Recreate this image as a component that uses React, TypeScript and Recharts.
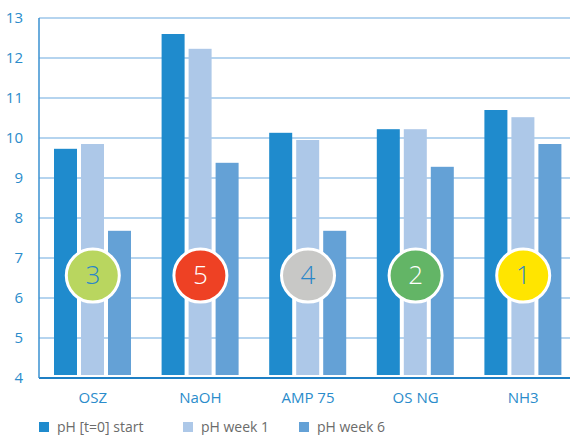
import React from "react";
import { Bar, CartesianGrid, ComposedChart, Scatter, XAxis, YAxis } from "recharts";

const categories = ["OSZ", "NaOH", "AMP 75", "OS NG", "NH3"];
const phStart = [9.73, 12.6, 10.13, 10.22, 10.7];
const phWeek1 = [9.85, 12.23, 9.95, 10.22, 10.52];
const phWeek6 = [7.68, 9.38, 7.68, 9.28, 9.85];
const ranks = [3, 5, 4, 2, 1];
const rankColors = ["#b9d65f", "#ee4124", "#c8c8c6", "#63b566", "#ffe500"];
const rankTextColors = ["#2a86c8", "#ffffff", "#2a86c8", "#ffffff", "#2a86c8"];
const yTicks = [4, 5, 6, 7, 8, 9, 10, 11, 12, 13];

const seriesNames = ["pH [t=0] start", "pH week 1", "pH week 6"];
const seriesColors = ["#1f8bcd", "#adc8e8", "#64a1d6"];

const data = categories.map((name, i) => ({
  name,
  start: phStart[i],
  week1: phWeek1[i],
  week6: phWeek6[i],
  badge: 6.56,
  rank: ranks[i],
  rankColor: rankColors[i],
  rankText: rankTextColors[i],
}));

const FONT = "'Open Sans', 'Noto Sans', sans-serif";
const BLUE = "#2a8ccb";

// bars stop a few px short of the axis line in the original
function GapBar(props: any) {
  const { x, y, width, height, fill } = props;
  if (height == null || height <= 3) return null;
  return <rect x={x} y={y} width={width} height={height - 3} fill={fill} />;
}

function RankBadge(props: any) {
  const { cx, cy, payload } = props;
  if (cx == null || cy == null) return null;
  return (
    <g>
      <circle cx={cx} cy={cy} r={26.5} fill={payload.rankColor} stroke="#ffffff" strokeWidth={3} />
      <text
        x={cx}
        y={cy}
        dy="0.33em"
        textAnchor="middle"
        fill={payload.rankText}
        fontSize={26}
        fontWeight={300}
        fontFamily={FONT}
      >
        {payload.rank}
      </text>
    </g>
  );
}

const legendX = [39, 183, 299];

export default function App() {
  return (
    <div style={{ position: "relative", width: 570, height: 435, overflow: "hidden", background: "#fff" }}>
      <style>{"body{margin:0;overflow:hidden}"}</style>
      <ComposedChart
        width={580}
        height={435}
        data={data}
        margin={{ top: 18, right: 3, bottom: 27, left: 0 }}
        barSize={23}
        barGap={4}
      >
        <CartesianGrid vertical={false} stroke="#9cc6ea" strokeWidth={1.5} />
        <XAxis
          dataKey="name"
          height={30}
          tickLine={false}
          tickMargin={8}
          axisLine={{ stroke: "#1f7fc4", strokeWidth: 2 }}
          tick={{ fill: BLUE, fontSize: 15, fontFamily: FONT }}
          interval={0}
        />
        <YAxis
          width={39}
          domain={[4, 13]}
          ticks={yTicks}
          interval={0}
          tickLine={false}
          tickMargin={10}
          axisLine={{ stroke: "#3a90d0", strokeWidth: 1.5 }}
          tick={{ fill: BLUE, fontSize: 15, fontFamily: FONT }}
        />
        <Bar dataKey="start" fill={seriesColors[0]} shape={GapBar} isAnimationActive={false} />
        <Bar dataKey="week1" fill={seriesColors[1]} shape={GapBar} isAnimationActive={false} />
        <Bar dataKey="week6" fill={seriesColors[2]} shape={GapBar} isAnimationActive={false} />
        <Scatter dataKey="badge" shape={RankBadge} isAnimationActive={false} />
      </ComposedChart>
      {seriesNames.map((name, i) => (
        <div
          key={name}
          style={{
            position: "absolute",
            left: legendX[i],
            top: 418,
            height: 18,
            display: "flex",
            alignItems: "center",
            fontFamily: FONT,
            fontSize: 14,
            lineHeight: "18px",
            color: "#6b6b6b",
            whiteSpace: "nowrap",
          }}
        >
          <span style={{ display: "inline-block", width: 10, height: 10, background: seriesColors[i], marginRight: 8 }} />
          {name}
        </div>
      ))}
    </div>
  );
}
